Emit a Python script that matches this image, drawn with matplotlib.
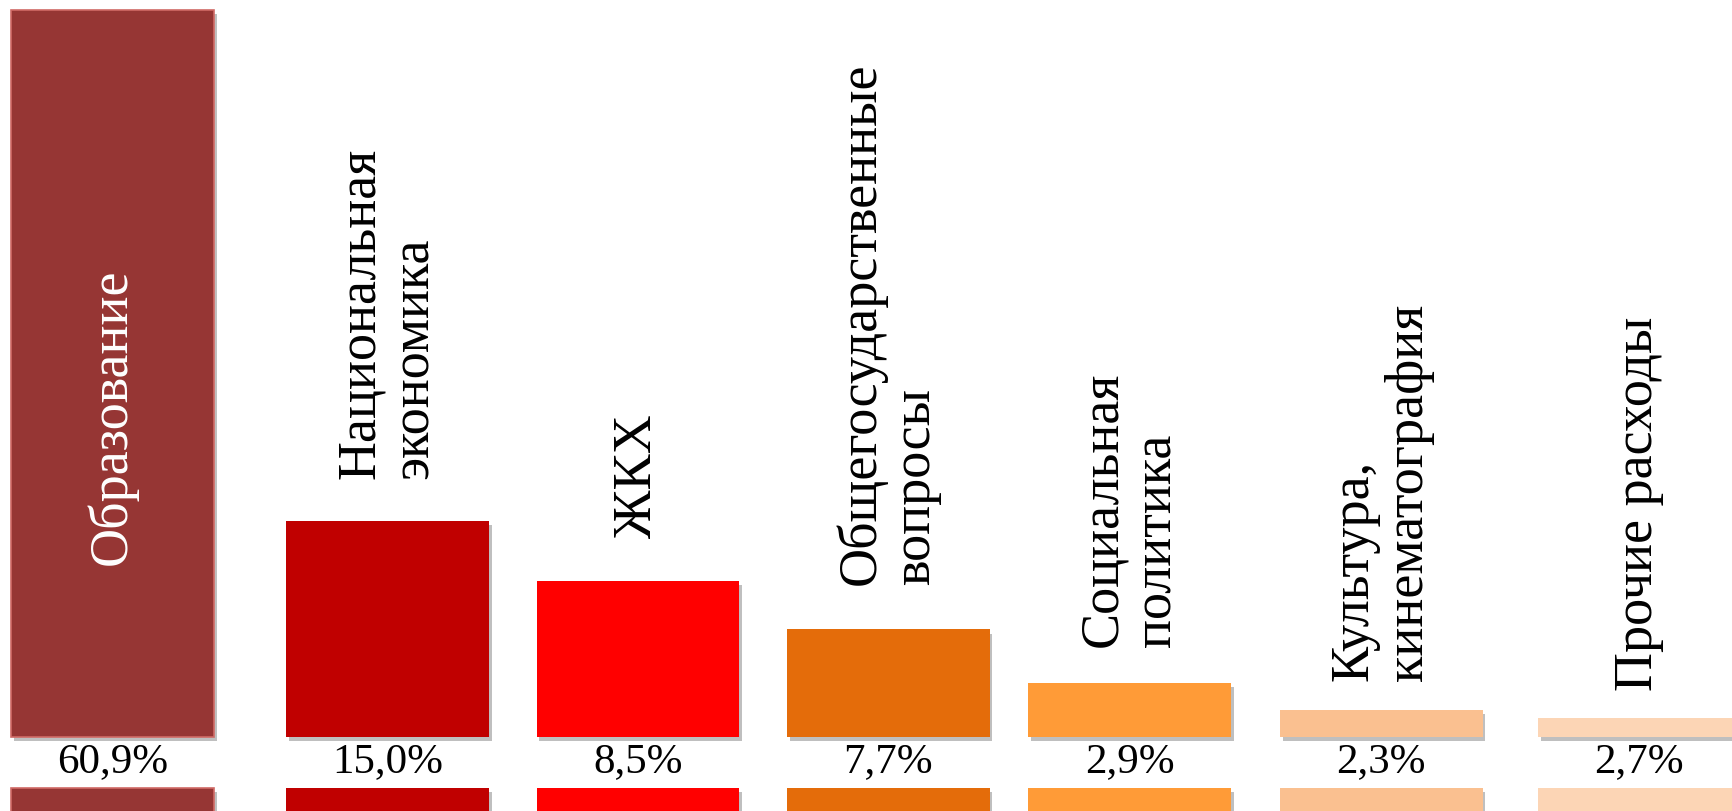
import matplotlib.pyplot as plt
import matplotlib.patheffects as pe
import numpy as np

plt.rcParams['font.family'] = ['Liberation Serif', 'DejaVu Serif']

# spending categories and their shares
categories = ['Образование', 'Национальная\nэкономика', 'ЖКХ',
              'Общегосударственные\nвопросы', 'Социальная\nполитика',
              'Культура,\nкинематография', 'Прочие расходы']
shares = ['60,9%', '15,0%', '8,5%', '7,7%', '2,9%', '2,3%', '2,7%']
# visual bar heights as drawn on the slide
bar_heights = [60.9, 18.1, 13.1, 9.0, 4.5, 2.3, 1.6]
colors = ['#963634', '#C00000', '#FF0000', '#E46C0A', '#FF9B37', '#FAC090', '#FCD5B5']

n = len(categories)
xpos = np.arange(n, dtype=float)
# the slide spacing is a bit uneven
xpos[0] -= 0.1
xpos[4] -= 0.035
xpos[5] -= 0.03
width = 0.81
label_pad = [0, 31, 31, 33, 27, 21, 20]

fig = plt.figure(figsize=(17.32, 8.12), dpi=100)
ax = fig.add_axes([0, 0, 1, 1])

shadow = [pe.SimplePatchShadow(offset=(2, -3), shadow_rgbFace='black', alpha=0.25), pe.Normal()]

bars = ax.bar(xpos, bar_heights, width=width, color=colors, zorder=2)
for b in bars:
    b.set_path_effects(shadow)
bars[0].set_edgecolor('#D06A66')
bars[0].set_linewidth(1.2)

# second row of bars, cut by the bottom of the slide
lower = ax.bar(xpos, -4, bottom=-4.3, width=width, color=colors, zorder=2)
for b in lower:
    b.set_path_effects(shadow)
lower[0].set_edgecolor('#D06A66')
lower[0].set_linewidth(1.2)

for i in range(n):
    ax.text(xpos[i], -2.0, shares[i], ha='center', va='center', fontsize=31, color='black')
    if i == 0:
        ax.text(xpos[i], 26.9, categories[i], rotation=90, ha='center', va='center',
                fontsize=39, color='white')
    else:
        ax.annotate(categories[i], (xpos[i], bar_heights[i]), xytext=(0, label_pad[i]),
                    textcoords='offset points', rotation=90, ha='center', va='bottom',
                    fontsize=39, color='black', multialignment='left', linespacing=1.1)

ax.set_xlim(-0.549, 6.371)
ax.set_ylim(-6.2, 61.8)
ax.axis('off')

fig.savefig('out.png', dpi=100)
